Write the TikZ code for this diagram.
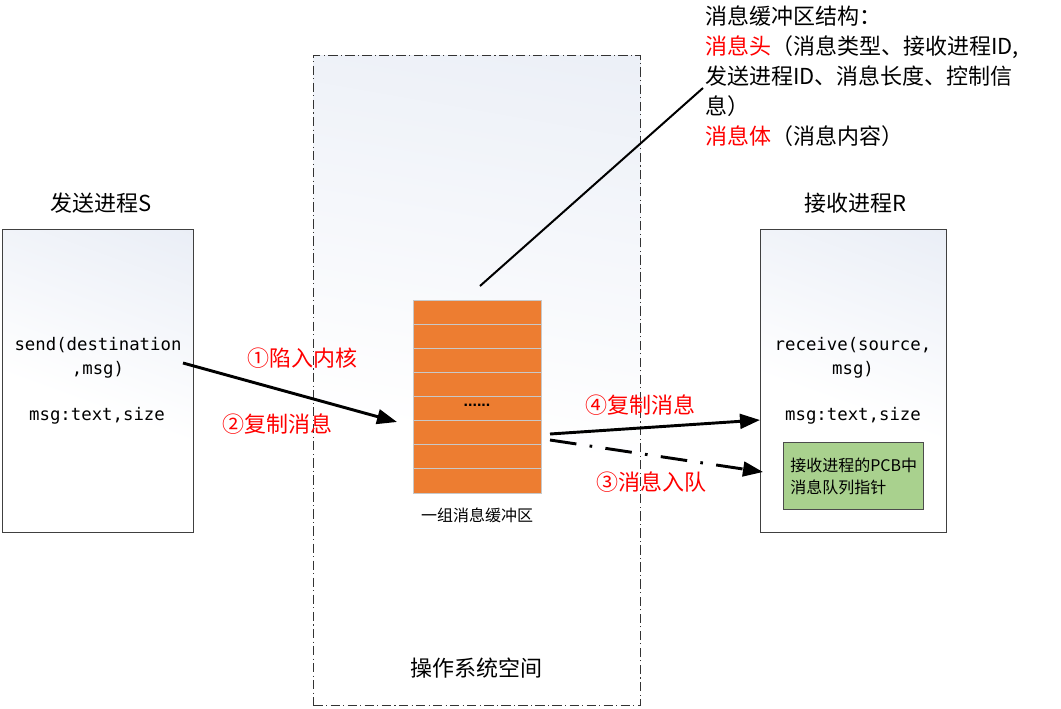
\documentclass[tikz,border=0pt]{standalone}
\usepackage{fontspec}
\setmainfont{Liberation Sans}
\newfontfamily\cjk{Noto Sans CJK SC}
\newfontfamily\mono{DejaVu Sans Mono}
\usetikzlibrary{arrows.meta}
\definecolor{gradtop}{RGB}{224,230,242}
\definecolor{bufor}{RGB}{237,125,49}
\definecolor{bufline}{RGB}{200,200,200}
\definecolor{pcbgreen}{RGB}{169,209,142}
\definecolor{lblred}{RGB}{255,0,0}
\pgfdeclareverticalshading{procshade}{100bp}{color(0bp)=(white); color(45bp)=(white); color(75bp)=(gradtop!55!white); color(100bp)=(gradtop)}
\begin{document}
\begin{tikzpicture}[x=0.75pt,y=-0.75pt,
  procbox/.style={draw=black!75, line width=0.8pt, shading=procshade, shading angle=-20, anchor=north west, inner sep=0pt},
  osbox/.style={draw=black!80, line width=0.8pt, dash pattern=on 7pt off 2.5pt on 0.8pt off 2.5pt, shading=procshade, shading angle=-10, anchor=north west, inner sep=0pt},
  codetxt/.style={font=\mono\fontsize{13}{18}\selectfont, align=center, inner sep=0pt},
  ttl/.style={font=\cjk\fontsize{16.5}{19}\selectfont, inner sep=0pt},
  lbl/.style={font=\cjk\fontsize{16.5}{19}\selectfont, text=lblred, inner sep=0pt},
  bigarrow/.style={line width=2.2pt, -{Triangle[length=15pt,width=11pt]}},
]
\useasboundingbox (0,0) rectangle (1061,708);
% OS space
\node[osbox, minimum width=245.25pt, minimum height=487.5pt] (os) at (313,55) {};
\node[ttl, font=\cjk\fontsize{16.5}{19}\selectfont] (oslbl) at (476,668) {操作系统空间};
% sender
\node[procbox, minimum width=143.25pt, minimum height=227.25pt] (sbox) at (2,229) {};
\node[ttl] (stitle) at (101,203) {发送进程S};
\node[codetxt] (scall) at (98,358) {send(destination\\,msg)};
\node[codetxt] (smsg) at (97,416) {msg:text,size};
% receiver
\node[procbox, minimum width=139.5pt, minimum height=227.25pt] (rbox) at (760,229) {};
\node[ttl] (rtitle) at (855,203) {接收进程R};
\node[codetxt] (rcall) at (853,358) {receive(source,\\msg)};
\node[codetxt] (rmsg) at (853,416) {msg:text,size};
\node[draw=black!70, line width=0.8pt, fill=pcbgreen, anchor=north west, minimum width=105pt, minimum height=50.25pt, inner sep=0pt] (pcb) at (783,442) {};
\node[font=\cjk\fontsize{12}{16.5}\selectfont, align=left, anchor=west, inner sep=0pt] (pcbtxt) at (790,476) {接收进程的PCB中\\消息队列指针};
% buffer
\node[fill=bufor, draw=bufline, line width=0.6pt, anchor=north west, minimum width=96pt, minimum height=144.75pt, inner sep=0pt] (buf) at (413,300) {};
\foreach \i in {1,...,7}{
  \draw[bufline, line width=0.9pt] (413,{300+\i*24.125}) -- (541,{300+\i*24.125});
}
\node[font=\bfseries\fontsize{12}{14}\selectfont, inner sep=0pt] (dots) at (477,405) {......};
\node[font=\cjk\fontsize{12}{14}\selectfont, inner sep=0pt] (bufcap) at (477,515) {一组消息缓冲区};
% structure annotation
\node[font=\cjk\fontsize{16.5}{22.5}\selectfont, align=left, anchor=north west, inner sep=0pt] (struct) at (705,6)
 {消息缓冲区结构：\\
  {\color{lblred}消息头}（消息类型、接收进程ID,\\
  发送进程ID、消息长度、控制信\\
  息）\\
  {\color{lblred}消息体}（消息内容）};
\coordinate (cs) at (480,286);
\coordinate (ce) at (703,88);
\draw[line width=1.5pt] (cs) -- (ce);
% arrows
\coordinate (a1s) at (183,363);
\coordinate (a1e) at (397,422);
\draw[bigarrow] (a1s) -- (a1e);
\coordinate (a4s) at (550,434);
\coordinate (a4e) at (760,420);
\draw[bigarrow] (a4s) -- (a4e);
\coordinate (a3s) at (550,440);
\coordinate (a3e) at (763,472);
\draw[line width=2.2pt, dash pattern=on 20pt off 10pt on 2pt off 10pt, -{Triangle[length=15pt,width=11pt]}] (a3s) -- (a3e);
\node[lbl] (l1) at (302,358) {①陷入内核};
\node[lbl] (l2) at (277,424) {②复制消息};
\node[lbl] (l4) at (640,405) {④复制消息};
\node[lbl] (l3) at (651,482) {③消息入队};
\end{tikzpicture}
\end{document}
